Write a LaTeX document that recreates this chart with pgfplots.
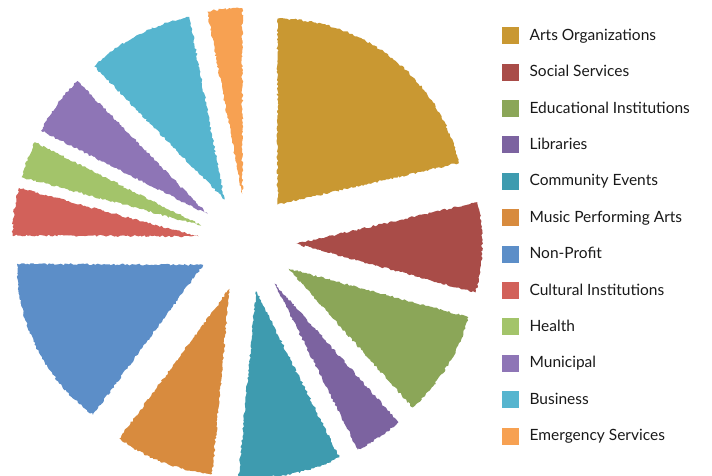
\documentclass[border=0pt]{standalone}
\usepackage{pgfplots}
\pgfplotsset{compat=1.18}
\usepackage{pgfplotstable}
\usepackage{fontspec}
\setmainfont{Lato}
\usetikzlibrary{calc,decorations.pathmorphing}

\definecolor{arts}{RGB}{201,152,50}
\definecolor{social}{RGB}{169,76,72}
\definecolor{edu}{RGB}{139,166,88}
\definecolor{lib}{RGB}{124,99,160}
\definecolor{comm}{RGB}{62,155,175}
\definecolor{music}{RGB}{216,139,62}
\definecolor{nonprofit}{RGB}{92,142,200}
\definecolor{cultural}{RGB}{210,97,90}
\definecolor{health}{RGB}{163,196,106}
\definecolor{municipal}{RGB}{142,117,182}
\definecolor{business}{RGB}{86,181,207}
\definecolor{emergency}{RGB}{247,161,82}

% share of each slice (percent), clockwise from 12 o'clock
\pgfplotstableread{
share color
21.4 arts
7.8  social
9.2  edu
4.2  lib
8.9  comm
8.6  music
15.0 nonprofit
4.1  cultural
3.2  health
5.3  municipal
9.3  business
3.0  emergency
}\piedata

\begin{document}
\begin{tikzpicture}
\begin{axis}[name=ax, x=1pt, y=1pt,
  xmin=0, xmax=712, ymin=0, ymax=475,
  hide axis, clip=false,
  legend image code/.code={\fill[#1] (0pt,-8pt) rectangle (16pt,8pt);},
  legend cell align=left,
  legend style={at={(axis cs:499,450)}, anchor=north west,
    draw=none, fill=none, text=black!90,
    font=\fontsize{15.5}{17}\selectfont,
    row sep=20pt, nodes={inner sep=0pt},
    /tikz/every odd column/.append style={column sep=11pt}},
]
\pgfplotstablegetrowsof{\piedata}
\pgfmathtruncatemacro\nrows{\pgfplotsretval-1}
\def\total{0}
\pgfplotsforeachungrouped \i in {0,...,\nrows}{%
  \pgfplotstablegetelem{\i}{share}\of\piedata
  \pgfmathsetmacro\total{\total+\pgfplotsretval}%
}
\def\startang{90}
\pgfplotsforeachungrouped \i in {0,...,\nrows}{%
  \pgfplotstablegetelem{\i}{share}\of\piedata
  \pgfmathsetmacro\endang{\startang-\pgfplotsretval/\total*360}%
  \pgfmathsetmacro\midang{(\startang+\endang)/2}%
  \pgfplotstablegetelem{\i}{color}\of\piedata
  \edef\temp{\noexpand\fill[\pgfplotsretval, decorate,
      decoration={random steps, segment length=2pt, amplitude=1pt}]
    ($(axis cs:247,232)+(\midang:49pt)$) -- ++(\startang:186pt)
    arc[start angle=\startang, end angle=\endang, radius=186pt] -- cycle;}%
  \temp
  \let\startang\endang
}

\addlegendimage{arts}      \addlegendentry{Arts Organizations}
\addlegendimage{social}    \addlegendentry{Social Services}
\addlegendimage{edu}       \addlegendentry{Educational Institutions}
\addlegendimage{lib}       \addlegendentry{Libraries}
\addlegendimage{comm}      \addlegendentry{Community Events}
\addlegendimage{music}     \addlegendentry{Music Performing Arts}
\addlegendimage{nonprofit} \addlegendentry{Non-Profit}
\addlegendimage{cultural}  \addlegendentry{Cultural Institutions}
\addlegendimage{health}    \addlegendentry{Health}
\addlegendimage{municipal} \addlegendentry{Municipal}
\addlegendimage{business}  \addlegendentry{Business}
\addlegendimage{emergency} \addlegendentry{Emergency Services}
\end{axis}
\pgfresetboundingbox
\path (ax.south west) rectangle (ax.north east);
\end{tikzpicture}
\end{document}
